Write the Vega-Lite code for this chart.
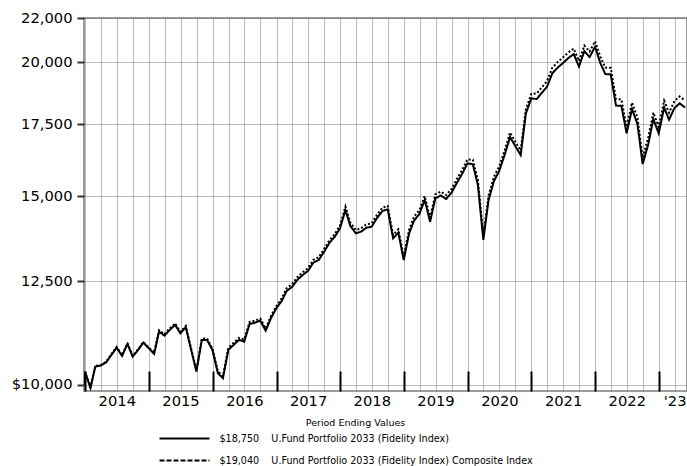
{
  "$schema": "https://vega.github.io/schema/vega-lite/v6.json",
  "width": 603,
  "height": 373,
  "autosize": {"type": "none"},
  "padding": {"left": 84, "top": 18, "right": 0, "bottom": 75},
  "background": "white",
  "config": {"view": {"stroke": "#9a9a9a", "strokeWidth": 2}, "font": "DejaVu Sans"},
  "data": {"values": [
    {"date": "2013-12-26", "fund": 10000, "composite": 10000},
    {"date": "2013-12-31", "fund": 10283, "composite": 10283},
    {"date": "2014-01-31", "fund": 9936, "composite": 9951},
    {"date": "2014-02-28", "fund": 10401, "composite": 10417},
    {"date": "2014-03-31", "fund": 10423, "composite": 10439},
    {"date": "2014-04-30", "fund": 10491, "composite": 10507},
    {"date": "2014-05-31", "fund": 10666, "composite": 10682},
    {"date": "2014-06-30", "fund": 10834, "composite": 10850},
    {"date": "2014-07-31", "fund": 10643, "composite": 10659},
    {"date": "2014-08-31", "fund": 10921, "composite": 10937},
    {"date": "2014-09-30", "fund": 10627, "composite": 10643},
    {"date": "2014-10-31", "fund": 10781, "composite": 10797},
    {"date": "2014-11-30", "fund": 10951, "composite": 10967},
    {"date": "2014-12-31", "fund": 10820, "composite": 10836},
    {"date": "2015-01-31", "fund": 10689, "composite": 10721},
    {"date": "2015-02-28", "fund": 11213, "composite": 11247},
    {"date": "2015-03-31", "fund": 11117, "composite": 11150},
    {"date": "2015-04-30", "fund": 11254, "composite": 11288},
    {"date": "2015-05-31", "fund": 11376, "composite": 11410},
    {"date": "2015-06-30", "fund": 11174, "composite": 11208},
    {"date": "2015-07-31", "fund": 11319, "composite": 11353},
    {"date": "2015-08-31", "fund": 10781, "composite": 10813},
    {"date": "2015-09-30", "fund": 10290, "composite": 10321},
    {"date": "2015-10-31", "fund": 11015, "composite": 11048},
    {"date": "2015-11-30", "fund": 11015, "composite": 11048},
    {"date": "2015-12-31", "fund": 10781, "composite": 10813},
    {"date": "2016-01-31", "fund": 10255, "composite": 10301},
    {"date": "2016-02-29", "fund": 10145, "composite": 10191},
    {"date": "2016-03-31", "fund": 10781, "composite": 10830},
    {"date": "2016-04-30", "fund": 10897, "composite": 10946},
    {"date": "2016-05-31", "fund": 11015, "composite": 11065},
    {"date": "2016-06-30", "fund": 10975, "composite": 11024},
    {"date": "2016-07-31", "fund": 11400, "composite": 11451},
    {"date": "2016-08-31", "fund": 11432, "composite": 11483},
    {"date": "2016-09-30", "fund": 11481, "composite": 11533},
    {"date": "2016-10-31", "fund": 11237, "composite": 11288},
    {"date": "2016-11-30", "fund": 11540, "composite": 11592},
    {"date": "2016-12-31", "fund": 11791, "composite": 11844},
    {"date": "2017-01-31", "fund": 11977, "composite": 12049},
    {"date": "2017-02-28", "fund": 12237, "composite": 12310},
    {"date": "2017-03-31", "fund": 12343, "composite": 12417},
    {"date": "2017-04-30", "fund": 12530, "composite": 12605},
    {"date": "2017-05-31", "fund": 12665, "composite": 12741},
    {"date": "2017-06-30", "fund": 12774, "composite": 12851},
    {"date": "2017-07-31", "fund": 13004, "composite": 13082},
    {"date": "2017-08-31", "fund": 13080, "composite": 13158},
    {"date": "2017-09-30", "fund": 13307, "composite": 13387},
    {"date": "2017-10-31", "fund": 13566, "composite": 13647},
    {"date": "2017-11-30", "fund": 13742, "composite": 13824},
    {"date": "2017-12-31", "fund": 14001, "composite": 14085},
    {"date": "2018-01-31", "fund": 14563, "composite": 14668},
    {"date": "2018-02-28", "fund": 14071, "composite": 14172},
    {"date": "2018-03-31", "fund": 13852, "composite": 13952},
    {"date": "2018-04-30", "fund": 13899, "composite": 13999},
    {"date": "2018-05-31", "fund": 14019, "composite": 14120},
    {"date": "2018-06-30", "fund": 14050, "composite": 14151},
    {"date": "2018-07-31", "fund": 14315, "composite": 14418},
    {"date": "2018-08-31", "fund": 14531, "composite": 14636},
    {"date": "2018-09-30", "fund": 14585, "composite": 14690},
    {"date": "2018-10-31", "fund": 13704, "composite": 13803},
    {"date": "2018-11-30", "fund": 13870, "composite": 13970},
    {"date": "2018-12-31", "fund": 13080, "composite": 13174},
    {"date": "2019-01-31", "fund": 13852, "composite": 13970},
    {"date": "2019-02-28", "fund": 14232, "composite": 14353},
    {"date": "2019-03-31", "fund": 14438, "composite": 14561},
    {"date": "2019-04-30", "fund": 14879, "composite": 15005},
    {"date": "2019-05-31", "fund": 14201, "composite": 14322},
    {"date": "2019-06-30", "fund": 14933, "composite": 15060},
    {"date": "2019-07-31", "fund": 15023, "composite": 15151},
    {"date": "2019-08-31", "fund": 14911, "composite": 15038},
    {"date": "2019-09-30", "fund": 15104, "composite": 15232},
    {"date": "2019-10-31", "fund": 15432, "composite": 15563},
    {"date": "2019-11-30", "fund": 15733, "composite": 15867},
    {"date": "2019-12-31", "fund": 16099, "composite": 16236},
    {"date": "2020-01-31", "fund": 16065, "composite": 16221},
    {"date": "2020-02-29", "fund": 15366, "composite": 15515},
    {"date": "2020-03-31", "fund": 13654, "composite": 13801},
    {"date": "2020-04-30", "fund": 14879, "composite": 15023},
    {"date": "2020-05-31", "fund": 15499, "composite": 15649},
    {"date": "2020-06-30", "fund": 15835, "composite": 15989},
    {"date": "2020-07-31", "fund": 16389, "composite": 16548},
    {"date": "2020-08-31", "fund": 17035, "composite": 17200},
    {"date": "2020-09-30", "fund": 16709, "composite": 16871},
    {"date": "2020-10-31", "fund": 16389, "composite": 16548},
    {"date": "2020-11-30", "fund": 17924, "composite": 18098},
    {"date": "2020-12-31", "fund": 18511, "composite": 18691},
    {"date": "2021-01-31", "fund": 18483, "composite": 18705},
    {"date": "2021-02-28", "fund": 18723, "composite": 18948},
    {"date": "2021-03-31", "fund": 18978, "composite": 19206},
    {"date": "2021-04-30", "fund": 19532, "composite": 19766},
    {"date": "2021-05-31", "fund": 19777, "composite": 20014},
    {"date": "2021-06-30", "fund": 19969, "composite": 20209},
    {"date": "2021-07-31", "fund": 20185, "composite": 20427},
    {"date": "2021-08-31", "fund": 20359, "composite": 20603},
    {"date": "2021-09-30", "fund": 19820, "composite": 20058},
    {"date": "2021-10-31", "fund": 20490, "composite": 20736},
    {"date": "2021-11-30", "fund": 20228, "composite": 20471},
    {"date": "2021-12-31", "fund": 20681, "composite": 20929},
    {"date": "2022-01-31", "fund": 19956, "composite": 20235},
    {"date": "2022-02-28", "fund": 19503, "composite": 19776},
    {"date": "2022-03-31", "fund": 19490, "composite": 19763},
    {"date": "2022-04-30", "fund": 18227, "composite": 18482},
    {"date": "2022-05-31", "fund": 18215, "composite": 18470},
    {"date": "2022-06-30", "fund": 17171, "composite": 17411},
    {"date": "2022-07-31", "fund": 18091, "composite": 18344},
    {"date": "2022-08-31", "fund": 17517, "composite": 17762},
    {"date": "2022-09-30", "fund": 16075, "composite": 16300},
    {"date": "2022-10-31", "fund": 16745, "composite": 16979},
    {"date": "2022-11-30", "fund": 17706, "composite": 17954},
    {"date": "2022-12-31", "fund": 17171, "composite": 17411},
    {"date": "2023-01-31", "fund": 18149, "composite": 18421},
    {"date": "2023-02-28", "fund": 17680, "composite": 17945},
    {"date": "2023-03-31", "fund": 18129, "composite": 18401},
    {"date": "2023-04-30", "fund": 18313, "composite": 18588},
    {"date": "2023-05-31", "fund": 18149, "composite": 18421}
  ]},
  "transform": [{"fold": ["fund", "composite"], "as": ["series", "value"]}],
  "encoding": {
    "x": {
      "field": "date", "type": "temporal",
      "scale": {"type": "utc", "domain": [{"year": 2013, "month": 12, "date": 25, "utc": true}, {"year": 2023, "month": 6, "date": 11, "utc": true}]},
      "axis": {
        "title": null,
        "values": [
          {"year": 2014, "month": 1, "date": 1, "utc": true}, {"year": 2014, "month": 4, "date": 1, "utc": true}, {"year": 2014, "month": 7, "date": 1, "utc": true}, {"year": 2014, "month": 10, "date": 1, "utc": true},
          {"year": 2015, "month": 1, "date": 1, "utc": true}, {"year": 2015, "month": 4, "date": 1, "utc": true}, {"year": 2015, "month": 7, "date": 1, "utc": true}, {"year": 2015, "month": 10, "date": 1, "utc": true},
          {"year": 2016, "month": 1, "date": 1, "utc": true}, {"year": 2016, "month": 4, "date": 1, "utc": true}, {"year": 2016, "month": 7, "date": 1, "utc": true}, {"year": 2016, "month": 10, "date": 1, "utc": true},
          {"year": 2017, "month": 1, "date": 1, "utc": true}, {"year": 2017, "month": 4, "date": 1, "utc": true}, {"year": 2017, "month": 7, "date": 1, "utc": true}, {"year": 2017, "month": 10, "date": 1, "utc": true},
          {"year": 2018, "month": 1, "date": 1, "utc": true}, {"year": 2018, "month": 4, "date": 1, "utc": true}, {"year": 2018, "month": 7, "date": 1, "utc": true}, {"year": 2018, "month": 10, "date": 1, "utc": true},
          {"year": 2019, "month": 1, "date": 1, "utc": true}, {"year": 2019, "month": 4, "date": 1, "utc": true}, {"year": 2019, "month": 7, "date": 1, "utc": true}, {"year": 2019, "month": 10, "date": 1, "utc": true},
          {"year": 2020, "month": 1, "date": 1, "utc": true}, {"year": 2020, "month": 4, "date": 1, "utc": true}, {"year": 2020, "month": 7, "date": 1, "utc": true}, {"year": 2020, "month": 10, "date": 1, "utc": true},
          {"year": 2021, "month": 1, "date": 1, "utc": true}, {"year": 2021, "month": 4, "date": 1, "utc": true}, {"year": 2021, "month": 7, "date": 1, "utc": true}, {"year": 2021, "month": 10, "date": 1, "utc": true},
          {"year": 2022, "month": 1, "date": 1, "utc": true}, {"year": 2022, "month": 4, "date": 1, "utc": true}, {"year": 2022, "month": 7, "date": 1, "utc": true}, {"year": 2022, "month": 10, "date": 1, "utc": true},
          {"year": 2023, "month": 1, "date": 1, "utc": true}, {"year": 2023, "month": 4, "date": 1, "utc": true}
        ],
        "grid": true, "gridColor": "#777777", "gridDash": [1, 1], "gridWidth": 1,
        "domain": false,
        "ticks": true, "tickSize": -20, "tickWidth": 2, "tickColor": "black",
        "tickOpacity": {"condition": {"test": "utcmonth(datum.value) == 0", "value": 1}, "value": 0},
        "labelExpr": "utcmonth(datum.value) == 6 ? '' + utcyear(datum.value) : ((utcyear(datum.value) == 2023 && utcmonth(datum.value) == 3) ? \"'23\" : '')",
        "labelFont": "DejaVu Sans", "labelFontSize": 14.7, "labelColor": "black",
        "labelPadding": 22, "labelOverlap": false, "labelFlush": false, "labelBound": false
      }
    },
    "y": {
      "field": "value", "type": "quantitative",
      "scale": {"type": "log", "domain": [9870, 22000], "nice": false, "zero": false},
      "axis": {
        "title": null,
        "values": [10000, 12500, 15000, 17500, 20000, 22000],
        "labelExpr": "datum.value == 10000 ? '$10,000' : format(datum.value, ',')",
        "domain": false,
        "grid": true, "gridColor": "#777777", "gridDash": [1, 1], "gridWidth": 1,
        "ticks": true, "tickSize": 7, "tickWidth": 2, "tickColor": "#333333",
        "labelFont": "DejaVu Sans", "labelFontSize": 14.7, "labelColor": "black",
        "labelPadding": 5, "labelOverlap": false, "labelFlush": false
      }
    }
  },
  "layer": [
    {
      "mark": {"type": "line", "color": "black", "strokeWidth": 2, "clip": true},
      "encoding": {
        "strokeDash": {
          "field": "series", "type": "nominal",
          "scale": {"domain": ["fund", "composite"], "range": [[1, 0], [2, 2]]},
          "legend": null
        }
      }
    },
    {
      "transform": [{"filter": "datum.value < 0"}],
      "mark": {"type": "line", "color": "black", "strokeWidth": 2, "clip": true},
      "encoding": {
        "strokeDash": {
          "field": "series", "type": "nominal",
          "scale": {"domain": ["fund", "composite"], "range": [[1, 0], [5, 2]]},
          "legend": {
            "orient": "none", "legendX": 94.5, "legendY": 400, "direction": "vertical",
            "title": "Period Ending Values", "titleAnchor": "middle",
            "titleFont": "DejaVu Sans", "titleFontSize": 9.5, "titleFontWeight": "normal", "titleColor": "black", "titlePadding": 5,
            "labelFont": "DejaVu Sans", "labelFontSize": 9.6, "labelColor": "black", "labelLimit": 600, "labelOffset": 29,
            "labelExpr": "datum.value == 'fund' ? '$18,750\u00a0\u00a0\u00a0\u00a0U.Fund Portfolio 2033 (Fidelity Index)' : '$19,040\u00a0\u00a0\u00a0\u00a0U.Fund Portfolio 2033 (Fidelity Index) Composite Index'",
            "symbolType": "M-5,0H5", "symbolSize": 100, "symbolStrokeWidth": 2, "symbolStrokeColor": "black",
            "rowPadding": 11
          }
        }
      }
    }
  ],
  "resolve": {"scale": {"strokeDash": "independent"}}
}
